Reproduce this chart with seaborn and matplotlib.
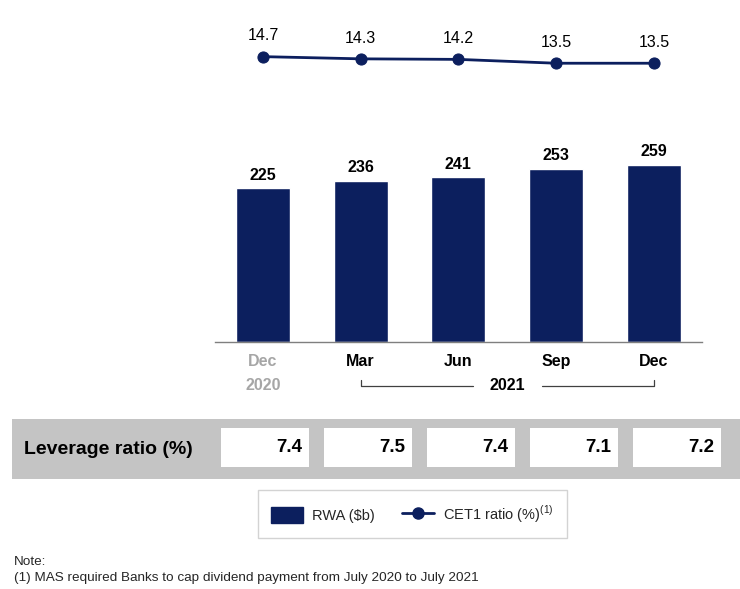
import numpy as np
import matplotlib
matplotlib.use('Agg')
import matplotlib.pyplot as plt
from matplotlib.patches import Rectangle, Patch
from matplotlib.lines import Line2D
import matplotlib.transforms as mtrans
import seaborn as sns

months = ['Dec', 'Mar', 'Jun', 'Sep', 'Dec']
years = ['2020', '2021']
rwa = [225, 236, 241, 253, 259]
cet1 = [14.7, 14.3, 14.2, 13.5, 13.5]
leverage = [7.4, 7.5, 7.4, 7.1, 7.2]

navy = '#0c1f5e'
grey_txt = '#a6a6a6'

sns.set_theme(style='white')
plt.rcParams['font.family'] = ['Liberation Sans', 'DejaVu Sans']
plt.rcParams['mathtext.fontset'] = 'custom'
plt.rcParams['mathtext.rm'] = 'Liberation Sans'

fig = plt.figure(figsize=(7.4, 5.89), dpi=100)
ax = fig.add_axes([0.2905, 0.4194, 0.658, 0.5467])

x = np.arange(len(months))
sns.barplot(x=x, y=rwa, color=navy, width=0.553, saturation=1, ax=ax)
ax.set_xlim(-0.49, 4.49)
ax.set_ylim(0, 470.8)
for xi, v in zip(x, rwa):
    ax.annotate(str(v), (xi, v), xytext=(0, 4), textcoords='offset points',
                ha='center', va='bottom', fontsize=11.5, fontweight='bold', color='black')

for s in ['top', 'left', 'right']:
    ax.spines[s].set_visible(False)
ax.spines['bottom'].set_color('#7f7f7f')
ax.spines['bottom'].set_linewidth(1)
ax.set_yticks([])
ax.set_xticks(x)
ax.set_xticklabels(months, fontsize=11.5, fontweight='bold')
ax.tick_params(axis='x', length=0, pad=9)
for i, t in enumerate(ax.get_xticklabels()):
    t.set_color(grey_txt if i == 0 else 'black')

# year labels and bracket
tr = mtrans.blended_transform_factory(ax.transData, ax.transAxes)
yr_y = -0.134
ax.text(0, yr_y, years[0], transform=tr, ha='center', va='center',
        fontsize=11.5, fontweight='bold', color=grey_txt, clip_on=False)
ax.text(2.5, yr_y, years[1], transform=tr, ha='center', va='center',
        fontsize=11.5, fontweight='bold', color='black', clip_on=False)
br_y = -0.137
tk_y = -0.118
for xs, ys in [([1, 1, 2.15], [tk_y, br_y, br_y]), ([2.85, 4, 4], [br_y, br_y, tk_y])]:
    ax.add_line(Line2D(xs, ys, transform=tr, color='#404040', lw=0.9, clip_on=False))

# CET1 line
ax2 = ax.twinx()
sns.lineplot(x=x, y=cet1, color=navy, lw=2, marker='o', markersize=8,
             markeredgecolor=navy, ax=ax2)
ax2.set_ylim(-37.2, 21.37)
ax2.set_yticks([])
for s in ax2.spines.values():
    s.set_visible(False)
for xi, v in zip(x, cet1):
    ax2.annotate(f'{v:.1f}', (xi, v), xytext=(0, 15), textcoords='offset points',
                 ha='center', va='center', fontsize=11.5, color='black')

# leverage ratio table
tab = fig.add_axes([12 / 740, 1 - 479 / 589, 728 / 740, 60 / 589])
tab.set_facecolor('#c4c4c4')
tab.set_xlim(-2.456, 4.61)
tab.set_ylim(0, 1)
tab.set_xticks([])
tab.set_yticks([])
for s in tab.spines.values():
    s.set_visible(False)
tab.text(-2.34, 0.5, 'Leverage ratio (%)', ha='left', va='center',
         fontsize=14, fontweight='bold', color='black')
for i, v in enumerate(leverage):
    tab.add_patch(Rectangle((i - 0.43, 0.2), 0.86, 0.65, facecolor='white', edgecolor='none'))
    tab.text(i + 0.36, 0.525, f'{v:.1f}', ha='right', va='center',
             fontsize=13.5, fontweight='bold', color='black')

# legend
handles = [Patch(facecolor=navy, edgecolor=navy),
           Line2D([0], [0], color=navy, lw=2, marker='o', markersize=8)]
leg = fig.legend(handles, ['RWA ($b)', r'CET1 ratio (%)$^{(1)}$'], loc='center',
                 bbox_to_anchor=(0.557, 0.127), ncol=2, frameon=True, fancybox=False,
                 fontsize=10.5, handlelength=2.2, handleheight=1.3, columnspacing=1.9,
                 borderpad=0.9, handletextpad=0.6)
leg.get_frame().set_edgecolor('#c8c8c8')
leg.get_frame().set_linewidth(1)

fig.text(14 / 740, 1 - 562 / 589, 'Note:', fontsize=9.7, va='center', ha='left')
fig.text(14 / 740, 1 - 578 / 589,
         '(1) MAS required Banks to cap dividend payment from July 2020 to July 2021',
         fontsize=9.7, va='center', ha='left')

fig.savefig('out.png', dpi=100)
